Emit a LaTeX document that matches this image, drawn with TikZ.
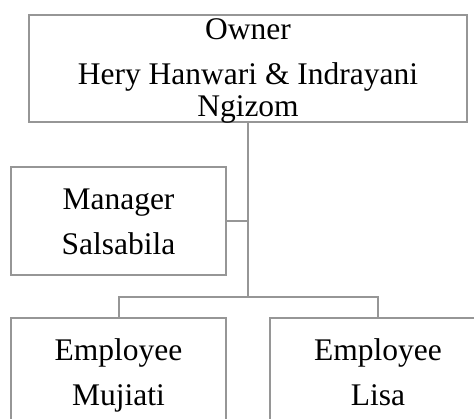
\documentclass[tikz,border=0pt]{standalone}
\usepackage{fontspec}
\setmainfont{Liberation Serif}
\definecolor{linegray}{RGB}{150,150,150}
\begin{document}
\begin{tikzpicture}[x=1pt,y=-1pt,
  box/.style={draw=linegray,line width=2pt,rectangle,inner sep=0pt,outer sep=0pt,fill=white},
  txt/.style={anchor=base,inner sep=0pt,font=\fontsize{31.5}{38}\selectfont},
  conn/.style={draw=linegray,line width=2pt}]
\useasboundingbox (0,0) rectangle (474,418);
\clip (0,0) rectangle (474,418);
\fill[white] (0,0) rectangle (474,418);
% boxes
\node[box,minimum width=438pt,minimum height=107pt] (owner) at (248,68.5) {};
\node[box,minimum width=215pt,minimum height=108pt] (manager) at (118.5,221) {};
\node[box,minimum width=215pt,minimum height=122pt] (emp1) at (118.5,379) {};
\node[box,minimum width=216pt,minimum height=122pt] (emp2) at (378,379) {};
% connectors
\coordinate (bus) at (248,297);
\draw[conn] (owner.south) -- (bus);
\draw[conn] (manager.east) -- (manager.east -| bus);
\draw[conn] (emp1.north) |- (bus) -| (emp2.north);
% texts
\node[txt] (t1) at (248,39) {Owner};
\node[txt] (t2) at (248,84.5) {Hery Hanwari \& Indrayani};
\node[txt] (t3) at (248,116.7) {Ngizom};
\node[txt] (t4) at (118.5,209) {Manager};
\node[txt] (t5) at (118.5,254) {Salsabila};
\node[txt] (t6) at (118.5,360) {Employee};
\node[txt] (t7) at (118.5,405) {Mujiati};
\node[txt] (t8) at (378,360) {Employee};
\node[txt] (t9) at (378,405) {Lisa};
\end{tikzpicture}
\end{document}
